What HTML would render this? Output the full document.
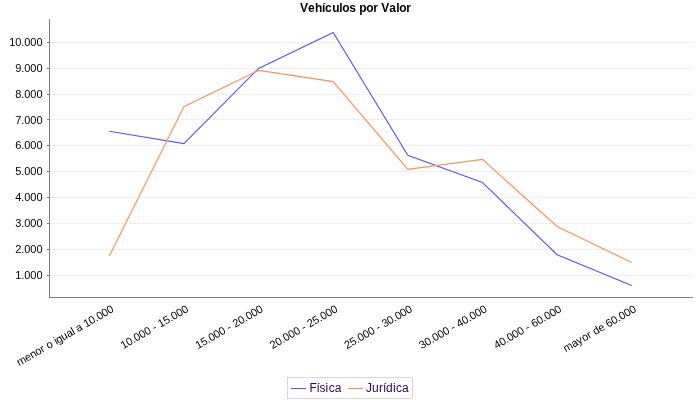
<!DOCTYPE html><html><head><meta charset="utf-8"><title>Vehículos por Valor</title>
<style>html,body{margin:0;padding:0;background:#fff}svg{display:block}text{font-kerning:none;font-family:"Liberation Sans",sans-serif}</style></head><body>
<svg width="700" height="400" viewBox="0 0 700 400">
<rect width="700" height="400" fill="#fff"/>
<text x="355.5" y="11.8" font-size="12" font-weight="bold" text-anchor="middle" fill="#000" dx="0 -0.00 0.33 -0.33 -0.34 0.33 -0.33 -0.34 -0.33 0.33 -0.34 -0.33 -0.33 0.33 -0.34 -0.00 0.33 -0.34 -0.33">Vehículos por Valor</text>
<line x1="49.5" x2="692.5" y1="42.50" y2="42.50" stroke="#c0c0c0" stroke-width="0.5" stroke-dasharray="2 2"/>
<line x1="49.5" x2="692.5" y1="68.50" y2="68.50" stroke="#c0c0c0" stroke-width="0.5" stroke-dasharray="2 2"/>
<line x1="49.5" x2="692.5" y1="94.50" y2="94.50" stroke="#c0c0c0" stroke-width="0.5" stroke-dasharray="2 2"/>
<line x1="49.5" x2="692.5" y1="119.50" y2="119.50" stroke="#c0c0c0" stroke-width="0.5" stroke-dasharray="2 2"/>
<line x1="49.5" x2="692.5" y1="145.50" y2="145.50" stroke="#c0c0c0" stroke-width="0.5" stroke-dasharray="2 2"/>
<line x1="49.5" x2="692.5" y1="171.50" y2="171.50" stroke="#c0c0c0" stroke-width="0.5" stroke-dasharray="2 2"/>
<line x1="49.5" x2="692.5" y1="197.50" y2="197.50" stroke="#c0c0c0" stroke-width="0.5" stroke-dasharray="2 2"/>
<line x1="49.5" x2="692.5" y1="223.50" y2="223.50" stroke="#c0c0c0" stroke-width="0.5" stroke-dasharray="2 2"/>
<line x1="49.5" x2="692.5" y1="249.50" y2="249.50" stroke="#c0c0c0" stroke-width="0.5" stroke-dasharray="2 2"/>
<line x1="49.5" x2="692.5" y1="275.50" y2="275.50" stroke="#c0c0c0" stroke-width="0.5" stroke-dasharray="2 2"/>
<line x1="49.5" x2="49.5" y1="19" y2="298" stroke="#808080" stroke-width="1"/>
<line x1="49" x2="693" y1="297.5" y2="297.5" stroke="#808080" stroke-width="1"/>
<line x1="47" x2="49" y1="42.50" y2="42.50" stroke="#808080" stroke-width="1"/>
<text x="42.5" y="46" font-size="11" text-anchor="end" fill="#000" dx="0 -0.12 -0.12 -0.06 -0.12 -0.12">10.000</text>
<line x1="47" x2="49" y1="68.50" y2="68.50" stroke="#808080" stroke-width="1"/>
<text x="42.5" y="72" font-size="11" text-anchor="end" fill="#000" dx="0 -0.12 -0.06 -0.12 -0.12">9.000</text>
<line x1="47" x2="49" y1="94.50" y2="94.50" stroke="#808080" stroke-width="1"/>
<text x="42.5" y="98" font-size="11" text-anchor="end" fill="#000" dx="0 -0.12 -0.06 -0.12 -0.12">8.000</text>
<line x1="47" x2="49" y1="119.50" y2="119.50" stroke="#808080" stroke-width="1"/>
<text x="42.5" y="124" font-size="11" text-anchor="end" fill="#000" dx="0 -0.12 -0.06 -0.12 -0.12">7.000</text>
<line x1="47" x2="49" y1="145.50" y2="145.50" stroke="#808080" stroke-width="1"/>
<text x="42.5" y="149" font-size="11" text-anchor="end" fill="#000" dx="0 -0.12 -0.06 -0.12 -0.12">6.000</text>
<line x1="47" x2="49" y1="171.50" y2="171.50" stroke="#808080" stroke-width="1"/>
<text x="42.5" y="175" font-size="11" text-anchor="end" fill="#000" dx="0 -0.12 -0.06 -0.12 -0.12">5.000</text>
<line x1="47" x2="49" y1="197.50" y2="197.50" stroke="#808080" stroke-width="1"/>
<text x="42.5" y="201" font-size="11" text-anchor="end" fill="#000" dx="0 -0.12 -0.06 -0.12 -0.12">4.000</text>
<line x1="47" x2="49" y1="223.50" y2="223.50" stroke="#808080" stroke-width="1"/>
<text x="42.5" y="227" font-size="11" text-anchor="end" fill="#000" dx="0 -0.12 -0.06 -0.12 -0.12">3.000</text>
<line x1="47" x2="49" y1="249.50" y2="249.50" stroke="#808080" stroke-width="1"/>
<text x="42.5" y="253" font-size="11" text-anchor="end" fill="#000" dx="0 -0.12 -0.06 -0.12 -0.12">2.000</text>
<line x1="47" x2="49" y1="275.50" y2="275.50" stroke="#808080" stroke-width="1"/>
<text x="42.5" y="279" font-size="11" text-anchor="end" fill="#000" dx="0 -0.12 -0.06 -0.12 -0.12">1.000</text>
<polyline points="109.3,131.3 183.9,143.6 258.6,68.4 333.2,32.4 407.8,155.4 482.4,182.4 557.1,254.7 631.7,285.5" fill="none" stroke="#5555ff" stroke-width="1.15" stroke-linejoin="miter"/>
<polyline points="109.3,256.0 183.9,106.7 258.6,70.4 333.2,81.6 407.8,169.4 482.4,159.4 557.1,226.5 631.7,262.5" fill="none" stroke="#ff9058" stroke-width="1.15" stroke-linejoin="miter"/>
<text transform="translate(114.6,311.2) rotate(-30)" font-size="11" text-anchor="end" fill="#000" dx="0 -0.16 -0.12 -0.12 -0.12 0.34 -0.06 -0.12 -0.06 -0.44 -0.12 -0.12 -0.12 -0.44 -0.06 -0.12 -0.06 -0.12 -0.12 -0.06 -0.12 -0.12">menor o igual a 10.000</text>
<text transform="translate(189.2,311.2) rotate(-30)" font-size="11" text-anchor="end" fill="#000" dx="0 -0.12 -0.12 -0.06 -0.12 -0.12 -0.12 -0.06 0.34 -0.06 -0.12 -0.12 -0.06 -0.12 -0.12">10.000 - 15.000</text>
<text transform="translate(263.9,311.2) rotate(-30)" font-size="11" text-anchor="end" fill="#000" dx="0 -0.12 -0.12 -0.06 -0.12 -0.12 -0.12 -0.06 0.34 -0.06 -0.12 -0.12 -0.06 -0.12 -0.12">15.000 - 20.000</text>
<text transform="translate(338.5,311.2) rotate(-30)" font-size="11" text-anchor="end" fill="#000" dx="0 -0.12 -0.12 -0.06 -0.12 -0.12 -0.12 -0.06 0.34 -0.06 -0.12 -0.12 -0.06 -0.12 -0.12">20.000 - 25.000</text>
<text transform="translate(413.1,311.2) rotate(-30)" font-size="11" text-anchor="end" fill="#000" dx="0 -0.12 -0.12 -0.06 -0.12 -0.12 -0.12 -0.06 0.34 -0.06 -0.12 -0.12 -0.06 -0.12 -0.12">25.000 - 30.000</text>
<text transform="translate(487.8,311.2) rotate(-30)" font-size="11" text-anchor="end" fill="#000" dx="0 -0.12 -0.12 -0.06 -0.12 -0.12 -0.12 -0.06 0.34 -0.06 -0.12 -0.12 -0.06 -0.12 -0.12">30.000 - 40.000</text>
<text transform="translate(562.4,311.2) rotate(-30)" font-size="11" text-anchor="end" fill="#000" dx="0 -0.12 -0.12 -0.06 -0.12 -0.12 -0.12 -0.06 0.34 -0.06 -0.12 -0.12 -0.06 -0.12 -0.12">40.000 - 60.000</text>
<text transform="translate(637.0,311.2) rotate(-30)" font-size="11" text-anchor="end" fill="#000" dx="0 -0.16 -0.12 0.50 -0.12 0.34 -0.06 -0.12 -0.12 -0.06 -0.12 -0.12 -0.06 -0.12 -0.12">mayor de 60.000</text>
<rect x="287.5" y="377.5" width="125" height="21" fill="#fff" stroke="#d8d8d8" stroke-width="1"/>
<line x1="291" x2="306" y1="388.5" y2="388.5" stroke="#5555ff" stroke-width="1"/>
<text x="309.6" y="392" font-size="12" fill="#330066" dx="0 -0.33 -0.34 0.00 0.34 0.00">Física</text>
<line x1="348" x2="363" y1="388.5" y2="388.5" stroke="#ff9058" stroke-width="1"/>
<text x="366" y="392" font-size="12" fill="#330066" dx="0 0.00 0.33 0.00 -0.34 0.33 0.34 0.00">Jurídica</text>
</svg></body></html>
